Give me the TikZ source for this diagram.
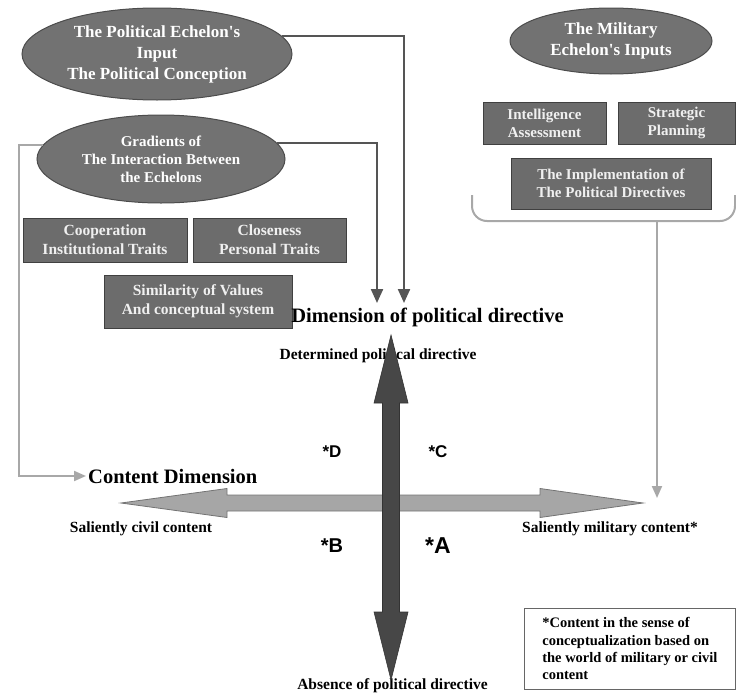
\documentclass[tikz,border=0pt]{standalone}
\usepackage{fontspec}
\setmainfont{Liberation Serif}
\newfontfamily\quadfont{Liberation Sans}
\usepackage{xcolor}
\usepackage{tikz}
\usetikzlibrary{
    positioning,
    arrows.meta,
    shapes.geometric,
    calc,
}
\definecolor{echgray}{HTML}{727272}
\definecolor{boxgray}{HTML}{6C6C6C}
\definecolor{linkgray}{HTML}{555555}
\definecolor{palegray}{HTML}{A8A8A8}
\definecolor{axisdark}{HTML}{474747}
\definecolor{axislight}{HTML}{A6A6A6}
\tikzset{
    % Node styles
    echelon/.style={ellipse, draw=black!70, line width=1pt, fill=echgray, text=white,
                    align=center, inner sep=0pt, font=\bfseries\fontsize{17}{21}\selectfont},
    trait/.style={rectangle, draw=black!75, line width=1pt, fill=boxgray, text=white!94!black,
                  align=center, inner sep=0pt, font=\bfseries\fontsize{15.5}{19}\selectfont},
    % Arrow styles
    link/.style={-{Triangle[width=12pt,length=14pt]}, line width=2.2pt, draw=linkgray},
    pale link/.style={-{Triangle[width=10pt,length=12pt]}, line width=2pt, draw=palegray},
    % Label styles
    pole/.style={font=\bfseries\fontsize{15.5}{18}\selectfont},
    dim label/.style={font=\bfseries\fontsize{20.5}{24}\selectfont},
    quadrant/.style={font=\quadfont\bfseries\fontsize{#1}{#1}\selectfont},
}
\newcommand{\apos}{\textquotesingle}

\begin{document}
\begin{tikzpicture}[
    x=1pt, y=-1pt,
    axis y/.style={fill=axisdark, draw=black!80, line width=0.6pt},
    axis x/.style={fill=axislight, draw=black!55, line width=0.8pt},
    note/.style={rectangle, draw=black!60, line width=0.8pt, align=left, anchor=north west,
                 minimum width=211pt, minimum height=81pt, inner xsep=13pt, inner ysep=6pt,
                 font=\bfseries\fontsize{14.5}{17.3}\selectfont},
]
    \useasboundingbox (0,0) rectangle (736,696);

    % Echelons
    \node[echelon, minimum width=270pt, minimum height=92pt] (polin) at (157,54)
        {The Political Echelon\apos s\\Input\\The Political Conception};
    \node[echelon, minimum width=248pt, minimum height=88pt,
          font=\bfseries\fontsize{15}{18}\selectfont] (grad) at (161,159)
        {Gradients of\\The Interaction Between\\the Echelons};
    \node[echelon, minimum width=202pt, minimum height=66pt] (milin) at (611,41)
        {The Military\\Echelon\apos s Inputs};

    % Traits
    \node[trait, minimum width=164pt, minimum height=44pt] (coop) at (105,240)
        {Cooperation\\Institutional Traits};
    \node[trait, minimum width=153pt, minimum height=44pt] (close) at (269.5,240)
        {Closeness\\Personal Traits};
    \node[trait, minimum width=188pt, minimum height=53pt] (simil) at (198,301.5)
        {Similarity of Values\\And conceptual system};
    \node[trait, minimum width=123pt, minimum height=42pt, font=\bfseries\fontsize{15}{18}\selectfont]
        (intel) at (544.5,123) {Intelligence\\Assessment};
    \node[trait, minimum width=117pt, minimum height=42pt, font=\bfseries\fontsize{15}{18}\selectfont]
        (strat) at (676.5,123) {Strategic\\Planning};
    \node[trait, minimum width=200pt, minimum height=51pt, font=\bfseries\fontsize{15}{18}\selectfont]
        (impl) at (611,183.5) {The Implementation of\\The Political Directives};

    % Dimension labels
    \node[dim label] (dimpol) at (427.5,317) {Dimension of political directive};
    \node[dim label, anchor=west, inner sep=2pt] (contdim) at (86,476) {Content Dimension};
    \node[pole] (determ) at (378,356) {Determined political directive};
    \node[pole] (absence) at (392.5,686) {Absence of political directive};
    \node[pole] (salciv) at (141,529) {Saliently civil content};
    \node[pole] (salmil) at (610,529) {Saliently military content*};

    % Axes
    \coordinate (xleft) at (121,503);
    \coordinate (xright) at (643,503);
    \coordinate (ytop) at (391,335);
    \coordinate (ybot) at (391,680);
    \draw[axis x] (xleft) -- ++(106,-14.5) -- ++(0,6.5) -- ++(313,0) -- ++(0,-6.5) -- (xright)
        -- ++(-103,14.5) -- ++(0,-6.5) -- ++(-313,0) -- ++(0,6.5) -- cycle;
    \draw[axis y] (ytop) -- ++(17,68) -- ++(-8.5,0) -- ++(0,209) -- ++(8.5,0) -- (ybot)
        -- ++(-17,-68) -- ++(8.5,0) -- ++(0,-209) -- ++(-8.5,0) -- cycle;

    % Quadrants
    \node[quadrant=17] (qd) at (332,452) {*D};
    \node[quadrant=17] (qc) at (438,452) {*C};
    \node[quadrant=20] (qb) at (332,546) {*B};
    \node[quadrant=23] (qa) at (438,546) {*A};

    % Connectors
    \coordinate (tipR) at (404,303);
    \coordinate (tipL) at (377,303);
    \draw[link] (polin.8) -| (tipR);
    \draw[link] (grad.8) -| (tipL);
    \draw[pale link] (grad.173) -- ++(-24,0) |- (contdim.west);
    \draw[palegray, line width=2pt, rounded corners=15pt]
        (472,195) -- (472,221) -- (735,221) -- (735,195);
    \coordinate (brace) at (657,221);
    \coordinate (miltip) at (657,498);
    \draw[pale link] (brace) -- (miltip);

    % Note
    \node[note] (footnote) at (524,608)
        {*Content in the sense of\\conceptualization based on\\the world of military or civil\\content};
\end{tikzpicture}
\end{document}
